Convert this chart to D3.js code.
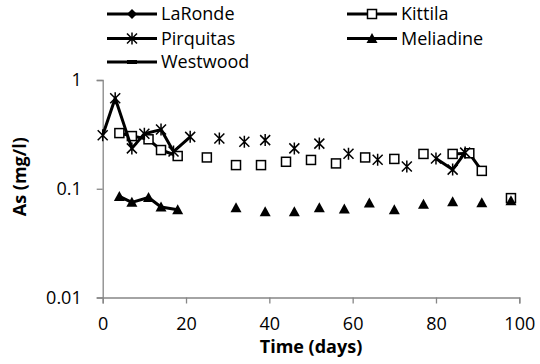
<!DOCTYPE html>
<html>
<head>
<meta charset="utf-8">
<script src="https://cdn.jsdelivr.net/npm/d3@7/dist/d3.min.js"></script>
<style>
  html, body { margin: 0; padding: 0; background: #fff; }
  svg { display: block; font-family: "Open Sans", sans-serif; }
</style>
</head>
<body>
<svg id="chart" width="540" height="364"></svg>
<script>
// ---- data (null marks a break in the line, like an empty cell) ----
const seriesNames = ["LaRonde", "Kittila", "Pirquitas", "Meliadine", "Westwood"];
const seriesMarkers = ["diamond", "square", "star", "triangle", "dash"];

const laRondeDays = [];
const laRondeValues = [];

const kittilaDays   = [4, 7, 11, 14, 18, null, 25, null, 32, null, 38, null, 44, null, 50, null, 56, null, 63, null, 70, null, 77, null, 84, 88, 91, null, 98];
const kittilaValues = [0.325, 0.305, 0.285, 0.227, 0.20, null, 0.194, null, 0.165, null, 0.165, null, 0.177, null, 0.184, null, 0.171, null, 0.194, null, 0.188, null, 0.209, null, 0.209, 0.212, 0.146, null, 0.082];

const pirquitasDays   = [0, 3, 7, 10, 14, 17, 21, null, 28, null, 34, null, 39, null, 46, null, 52, null, 59, null, 66, null, 73, null, 80, 84, 87];
const pirquitasValues = [0.31, 0.68, 0.235, 0.32, 0.35, 0.22, 0.30, null, 0.29, null, 0.27, null, 0.28, null, 0.235, null, 0.26, null, 0.21, null, 0.185, null, 0.16, null, 0.19, 0.15, 0.215];

const meliadineDays   = [4, 7, 11, 14, 18, null, 32, null, 39, null, 46, null, 52, null, 58, null, 64, null, 70, null, 77, null, 84, null, 91, null, 98];
const meliadineValues = [0.085, 0.075, 0.083, 0.068, 0.064, null, 0.067, null, 0.0615, null, 0.0615, null, 0.067, null, 0.065, null, 0.074, null, 0.064, null, 0.072, null, 0.076, null, 0.0745, null, 0.0776];

const westwoodDays = [];
const westwoodValues = [];

const xTicks = [0, 20, 40, 60, 80, 100];
const yTicks = [0.01, 0.1, 1];
const yTickLabels = ["0.01", "0.1", "1"];
const xTitle = "Time (days)";
const yTitle = "As (mg/l)";

// ---- build ----
const dayArrays = [laRondeDays, kittilaDays, pirquitasDays, meliadineDays, westwoodDays];
const valArrays = [laRondeValues, kittilaValues, pirquitasValues, meliadineValues, westwoodValues];
const series = seriesNames.map((name, i) => ({
  name, marker: seriesMarkers[i],
  points: dayArrays[i].map((d, j) => (d === null || valArrays[i][j] === null) ? null : { x: d, y: valArrays[i][j] })
}));

const svg = d3.select("#chart");
const axisColor = "#868686";
const x = d3.scaleLinear().domain([0, 100]).range([102.7, 519.3]);
const y = d3.scaleLog().domain([0.01, 1]).range([297.5, 80]);

// axes
const gx = svg.append("g").attr("transform", `translate(0,${y(0.01)})`)
  .call(d3.axisBottom(x).tickValues(xTicks).tickSize(6).tickPadding(14).tickFormat(d3.format("d")));
const gy = svg.append("g").attr("transform", `translate(${x(0)},0)`)
  .call(d3.axisLeft(y).tickValues(yTicks).tickSize(6).tickPadding(15).tickFormat((d, i) => yTickLabels[i]));
[gx, gy].forEach(g => {
  g.select(".domain").attr("stroke", axisColor).attr("stroke-width", 1.3);
  g.selectAll(".tick line").attr("stroke", axisColor).attr("stroke-width", 1.3);
  g.selectAll(".tick text").attr("fill", "#000").style("font-size", "18px").style("font-family", "'Open Sans', sans-serif");
});

// titles
svg.append("text").attr("x", (x(0) + x(100)) / 2).attr("y", 353).attr("text-anchor", "middle")
  .style("font-size", "18px").style("font-weight", "bold").text(xTitle);
svg.append("text").attr("transform", `translate(26,${(y(1) + y(0.01)) / 2 - 12}) rotate(-90)`).attr("text-anchor", "middle")
  .style("font-size", "18px").style("font-weight", "bold").text(yTitle);

// marker drawing
function drawMarker(g, type, cx, cy) {
  if (type === "square") {
    g.append("rect").attr("x", cx - 4.5).attr("y", cy - 4.5).attr("width", 9).attr("height", 9)
      .attr("fill", "#fff").attr("stroke", "#000").attr("stroke-width", 1.5);
  } else if (type === "triangle") {
    g.append("path").attr("d", `M${cx},${cy - 5.5}L${cx + 5.5},${cy + 4.5}L${cx - 5.5},${cy + 4.5}Z`).attr("fill", "#000");
  } else if (type === "star") {
    const r = 5;
    g.append("path").attr("d",
      `M${cx - r},${cy - r}L${cx + r},${cy + r}M${cx - r},${cy + r}L${cx + r},${cy - r}M${cx},${cy - r - 1}L${cx},${cy + r + 1}`)
      .attr("stroke", "#000").attr("stroke-width", 1.5).attr("fill", "none");
  } else if (type === "diamond") {
    g.append("path").attr("d", `M${cx},${cy - 5}L${cx + 5},${cy}L${cx},${cy + 5}L${cx - 5},${cy}Z`).attr("fill", "#000");
  } else if (type === "dash") {
    g.append("rect").attr("x", cx - 5).attr("y", cy - 2).attr("width", 10).attr("height", 4).attr("fill", "#000");
  }
}

// series
const line = d3.line().defined(d => d !== null).x(d => x(d.x)).y(d => y(d.y));
series.forEach(s => {
  const g = svg.append("g");
  g.append("path").datum(s.points).attr("d", line).attr("fill", "none")
    .attr("stroke", "#000").attr("stroke-width", 3).attr("stroke-linejoin", "round");
  s.points.filter(p => p !== null).forEach(p => drawMarker(g, s.marker, x(p.x), y(p.y)));
});

// legend
const legendPos = [[107, 14], [347, 14], [107, 38.5], [347, 38.5], [107, 62]];
series.forEach((s, i) => {
  const [lx, ly] = legendPos[i];
  const g = svg.append("g");
  g.append("line").attr("x1", lx).attr("x2", lx + 50).attr("y1", ly).attr("y2", ly)
    .attr("stroke", "#000").attr("stroke-width", 3);
  drawMarker(g, s.marker, lx + 25, ly);
  g.append("text").attr("x", lx + 54).attr("y", ly).attr("dy", "0.35em")
    .style("font-size", "18px").text(s.name);
});
</script>
</body>
</html>
